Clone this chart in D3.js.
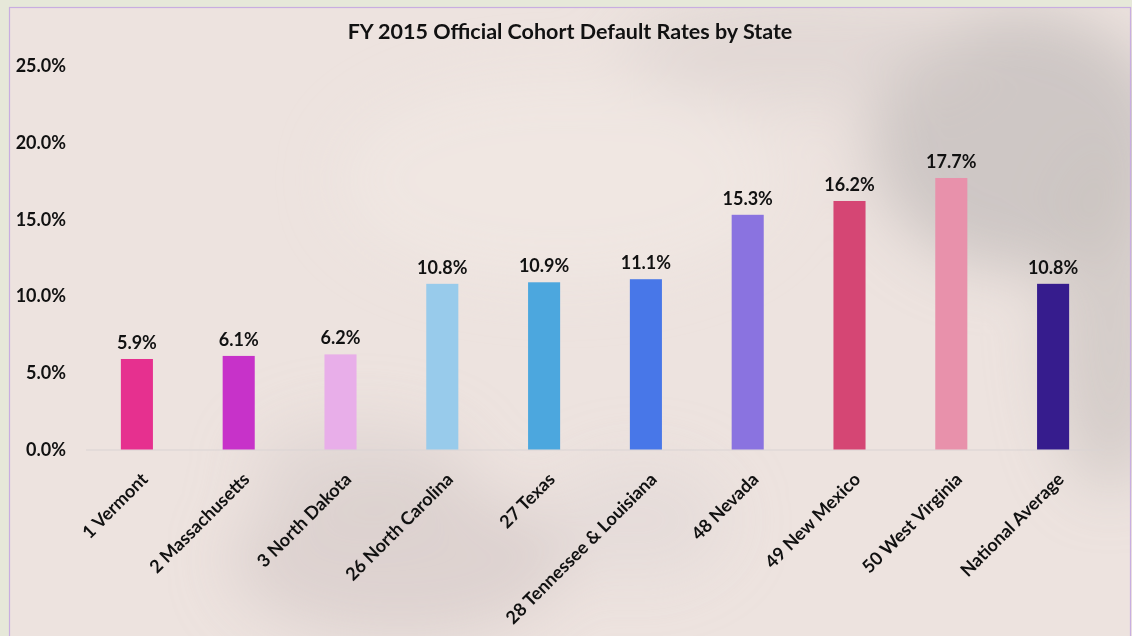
<!DOCTYPE html>
<html><head><meta charset="utf-8">
<script src="https://cdn.jsdelivr.net/npm/d3@7"></script>
<style>
html,body{margin:0;padding:0;background:#e6e8d9;}
svg{display:block;font-family:Lato,"Open Sans",sans-serif;}
</style></head>
<body>
<svg id="chart" width="1132" height="636"></svg>
<script>
const categories = ["1 Vermont","2 Massachusetts","3 North Dakota","26 North Carolina","27 Texas","28 Tennessee & Louisiana","48 Nevada","49 New Mexico","50 West Virginia","National Average"];
const values = [5.9, 6.1, 6.2, 10.8, 10.9, 11.1, 15.3, 16.2, 17.7, 10.8];
const barColors = ["#e6308f","#c732c9","#e8aee9","#98cbeb","#4ca7de","#4877e8","#8a73e0","#d54674","#e891ab","#361c8d"];
const yTicks = [0, 5, 10, 15, 20, 25];
const title = "FY 2015 Official Cohort Default Rates by State";

const svg = d3.select("#chart");
const W = 1132, H = 636;
const defs = svg.append("defs");
defs.append("filter").attr("id","blur").attr("x","-50%").attr("y","-50%").attr("width","200%").attr("height","200%")
  .append("feGaussianBlur").attr("stdDeviation", 30);

svg.append("rect").attr("width",W).attr("height",H).attr("fill","#e6e8d9");
const area = svg.append("g");
area.append("rect").attr("x",9).attr("y",7).attr("width",W-9).attr("height",H-7).attr("fill","#ede3df");
const clip = defs.append("clipPath").attr("id","ac");
clip.append("rect").attr("x",9).attr("y",7).attr("width",W-9).attr("height",H-7);
const bg = area.append("g").attr("clip-path","url(#ac)").append("g").attr("filter","url(#blur)");
const blobs = [
  {cx:1020,cy:140,rx:150,ry:130,c:"#c6bfbe",o:0.8},
  {cx:1110,cy:320,rx:60,ry:170,c:"#cbc3c1",o:0.7},
  {cx:800,cy:50,rx:180,ry:55,c:"#d8cfcd",o:0.55},
  {cx:400,cy:560,rx:170,ry:80,c:"#d3c8c6",o:0.6},
  {cx:360,cy:470,rx:110,ry:50,c:"#d8cecc",o:0.5},
  {cx:640,cy:520,rx:90,ry:60,c:"#ddd3d1",o:0.4},
  {cx:560,cy:180,rx:220,ry:100,c:"#f1e9e5",o:0.6}
];
bg.selectAll("ellipse").data(blobs).join("ellipse")
  .attr("cx",d=>d.cx).attr("cy",d=>d.cy).attr("rx",d=>d.rx).attr("ry",d=>d.ry)
  .attr("fill",d=>d.c).attr("opacity",d=>d.o);
area.append("rect").attr("x",9.5).attr("y",7.5).attr("width",W-11).attr("height",H-6)
  .attr("fill","none").attr("stroke","#c8aee0").attr("stroke-width",1.2);

const x = d3.scaleBand().domain(categories).range([86,1104]).paddingInner(0.685).paddingOuter(0.3425);
const y = d3.scaleLinear().domain([0,25]).range([449.5,66]);

svg.append("text").attr("x",570).attr("y",39).attr("text-anchor","middle")
  .attr("font-size",21.5).attr("font-weight",700).attr("fill","#111").text(title);

const yAxis = d3.axisLeft(y).tickValues(yTicks).tickFormat(d=>d.toFixed(1)+"%").tickSize(0).tickPadding(0);
const yg = svg.append("g").attr("transform","translate(66,0)").call(yAxis);
yg.select(".domain").remove();
yg.selectAll("text").attr("font-size",18).attr("font-weight",700).attr("fill","#111").attr("font-family","Lato,'Open Sans',sans-serif");

svg.append("line").attr("x1",86).attr("x2",1104).attr("y1",y(0)+0.5).attr("y2",y(0)+0.5)
  .attr("stroke","#d9d3d3").attr("stroke-width",1.2);

svg.append("g").selectAll("rect").data(categories).join("rect")
  .attr("x",d=>x(d)).attr("width",x.bandwidth())
  .attr("y",(d,i)=>y(values[i])).attr("height",(d,i)=>y(0)-y(values[i]))
  .attr("fill",(d,i)=>barColors[i]);

svg.append("g").selectAll("text").data(categories).join("text")
  .attr("x",d=>x(d)+x.bandwidth()/2).attr("y",(d,i)=>y(values[i])-10)
  .attr("text-anchor","middle").attr("font-size",18).attr("font-weight",700).attr("fill","#111")
  .text((d,i)=>values[i].toFixed(1)+"%");

const xAxis = d3.axisBottom(x).tickSize(0).tickPadding(0);
const xg = svg.append("g").attr("transform",`translate(0,${y(0)})`).call(xAxis);
xg.select(".domain").remove();
xg.selectAll("text")
  .attr("font-size",18).attr("font-weight",700).attr("fill","#111").attr("font-family","Lato,'Open Sans',sans-serif")
  .attr("text-anchor","end").attr("dy",null).attr("y",0)
  .attr("transform","translate(12,31) rotate(-45)");
</script>
</body></html>
